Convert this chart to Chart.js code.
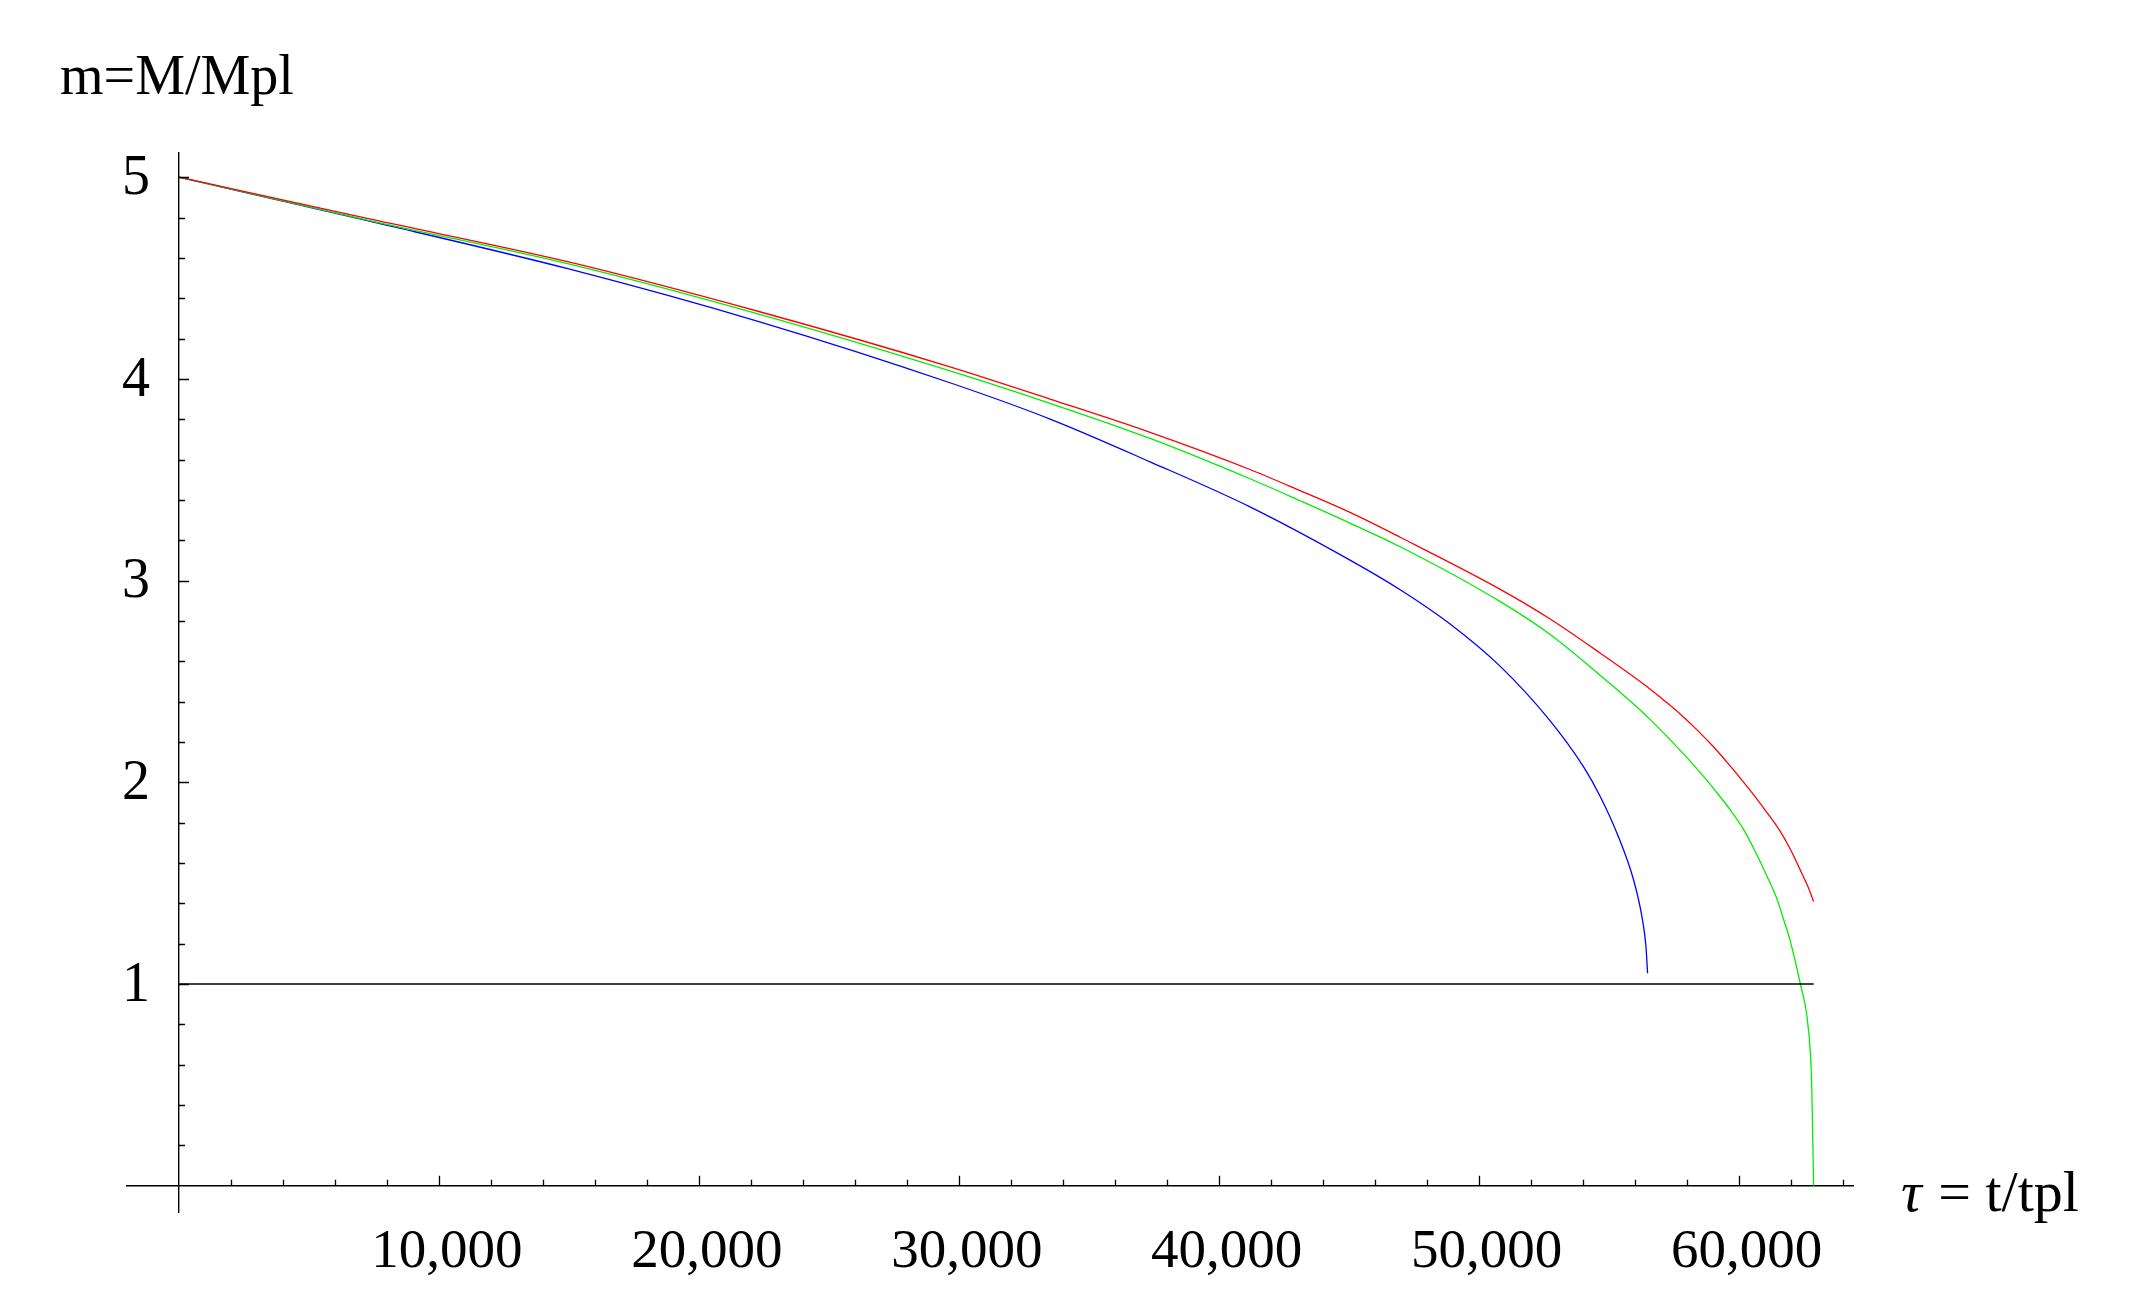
<!DOCTYPE html>
<html>
<head>
<meta charset="utf-8">
<script src="https://cdn.jsdelivr.net/npm/chart.js@4.4.0/dist/chart.umd.min.js"></script>
<style>
  html, body { margin: 0; padding: 0; background: #fff; }
</style>
</head>
<body>
<canvas id="myChart" width="2132" height="1305"></canvas>
<script>
const ctx = document.getElementById('myChart').getContext('2d')

// tau = t/tpl and m = M/Mpl
const redTau = [0, 7330, 15030, 22340, 29660, 33510, 37360, 41200, 43130, 45050, 46980, 50830, 52750, 54680, 56600, 57050, 57760, 58400, 59040, 59550, 60070, 60580, 61090, 61600, 61990, 62370, 62700, 62887]
const redMass = [5.0, 4.793, 4.579, 4.333, 4.060, 3.900, 3.735, 3.551, 3.446, 3.338, 3.215, 2.957, 2.810, 2.640, 2.462, 2.415, 2.338, 2.260, 2.175, 2.100, 2.020, 1.938, 1.850, 1.757, 1.668, 1.565, 1.473, 1.409]

const greenTau = [0, 7330, 15030, 22340, 29660, 33510, 37360, 41200, 43130, 45050, 46980, 50830, 52750, 54680, 55830, 56600, 57890, 58660, 59170, 59680, 60190, 60640, 61090, 61480, 61730, 61990, 62370, 62630, 62760, 62810, 62850, 62887]
const greenMass = [5.0, 4.785, 4.569, 4.320, 4.040, 3.879, 3.705, 3.505, 3.396, 3.285, 3.168, 2.896, 2.733, 2.530, 2.403, 2.311, 2.140, 2.028, 1.948, 1.863, 1.767, 1.657, 1.535, 1.420, 1.320, 1.212, 1.004, 0.839, 0.660, 0.509, 0.244, 0.0]

const blueTau = [0, 7330, 15030, 22340, 29660, 33510, 37360, 41200, 45050, 46980, 48900, 50830, 52750, 54030, 54680, 55320, 55960, 56280, 56435, 56497]
const blueMass = [5.0, 4.782, 4.544, 4.283, 3.981, 3.801, 3.589, 3.366, 3.102, 2.955, 2.785, 2.575, 2.305, 2.078, 1.929, 1.748, 1.516, 1.334, 1.186, 1.054]

// the m = 1 reference line
const levelTau = [0, 62887]
const levelMass = [1, 1]

const xLabels = [10000, 20000, 30000, 40000, 50000, 60000]
const yLabels = [1, 2, 3, 4, 5]

const serif = '"Liberation Serif", "DejaVu Serif", serif'

const toPoints = (xs, ys) => xs.map((v, i) => ({x: v, y: ys[i]}))

const line = (label, xs, ys, color, width) => ({
    label,
    data: toPoints(xs, ys),
    borderColor: color,
    borderWidth: width,
    pointRadius: 0,
    fill: false,
    cubicInterpolationMode: 'monotone',
})

// small inward ticks like the original, plus the y numbers left of the axis
const axisTicks = {
    id: 'axisTicks',
    afterDraw(chart) {
        const {ctx, scales: {x, y}} = chart
        const x0 = x.getPixelForValue(0)
        const y0 = y.getPixelForValue(0)
        ctx.save()
        ctx.strokeStyle = '#000'
        ctx.lineWidth = 1.3
        ctx.beginPath()
        for (let v = 2000; v <= 64000; v += 2000) {
            const px = Math.round(x.getPixelForValue(v)) + 0.5
            const len = v % 10000 === 0 ? 10 : 6
            ctx.moveTo(px, y0)
            ctx.lineTo(px, y0 - len)
        }
        for (let k = 1; k <= 25; k++) {
            const py = Math.round(y.getPixelForValue(k / 5)) + 0.5
            const len = k % 5 === 0 ? 10 : 6
            ctx.moveTo(x0, py)
            ctx.lineTo(x0 + len, py)
        }
        ctx.stroke()

        ctx.fillStyle = '#000'
        ctx.font = '56px ' + serif
        ctx.textAlign = 'right'
        ctx.textBaseline = 'middle'
        yLabels.forEach(v => {
            ctx.fillText(String(v), x0 - 29, y.getPixelForValue(v) + 2)
        })
        ctx.restore()
    }
}

// axis names sit at the ends of the axes
const axisNames = {
    id: 'axisNames',
    afterDraw(chart) {
        const {ctx} = chart
        ctx.save()
        ctx.fillStyle = '#000'
        ctx.textBaseline = 'alphabetic'
        ctx.textAlign = 'left'
        ctx.font = '56px ' + serif
        ctx.fillText('m=M/Mpl', 60, 94)

        ctx.font = 'italic 58px ' + serif
        ctx.fillText('τ', 1901, 1211)
        const w = ctx.measureText('τ').width
        ctx.font = '58px ' + serif
        ctx.fillText(' = t/tpl', 1903 + w, 1211)
        ctx.restore()
    }
}

const config = {
    type: 'line',
    data: {
        datasets: [
            line('m = 1', levelTau, levelMass, '#000', 1.4),
            line('red', redTau, redMass, '#ff0000', 1.3),
            line('green', greenTau, greenMass, '#00ee00', 1.3),
            line('blue', blueTau, blueMass, '#0000ff', 1.3),
        ]
    },
    options: {
        responsive: false,
        animation: false,
        layout: {
            padding: {left: 127, right: 279, top: 153, bottom: 93}
        },
        plugins: {
            legend: {display: false},
            tooltip: {enabled: false},
        },
        scales: {
            x: {
                type: 'linear',
                min: -2000,
                max: 64400,
                position: {y: 0},
                grid: {display: false},
                border: {display: true, color: '#000', width: 1.4},
                afterBuildTicks: (s) => { s.ticks = xLabels.map(v => ({value: v})) },
                ticks: {
                    color: '#000',
                    font: {family: serif, size: 55},
                    padding: 26,
                    labelOffset: 8,
                    maxRotation: 0,
                    autoSkip: false,
                    callback: (v) => v.toLocaleString('en-US'),
                },
            },
            y: {
                type: 'linear',
                min: -0.13,
                max: 5.12,
                position: {x: 0},
                grid: {display: false},
                border: {display: true, color: '#000', width: 1.4},
                afterBuildTicks: (s) => { s.ticks = yLabels.map(v => ({value: v})) },
                ticks: {display: false},
            },
        },
    },
    plugins: [axisTicks, axisNames],
}

const myChart = new Chart(ctx, config)
</script>
</body>
</html>
